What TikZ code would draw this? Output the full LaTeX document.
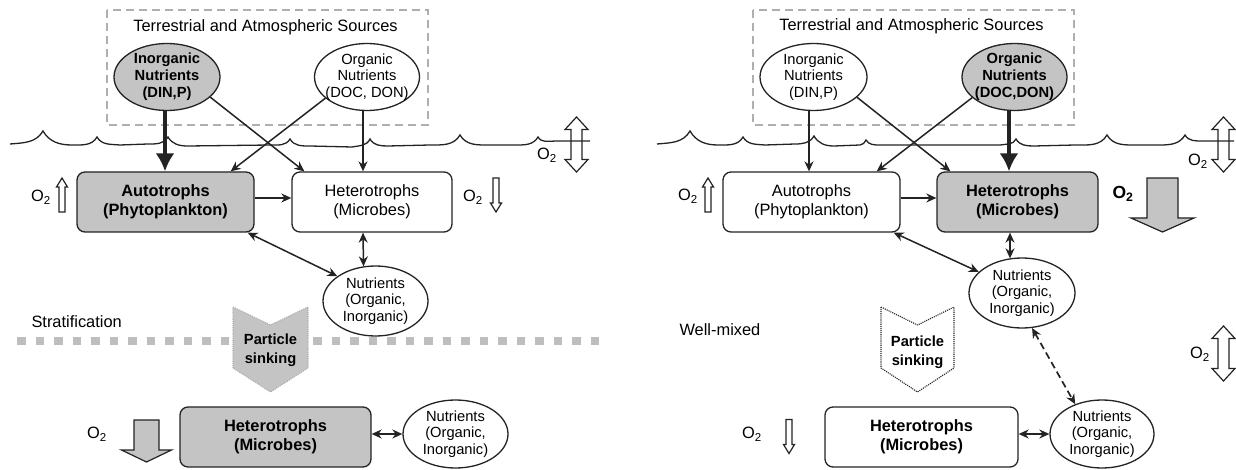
\documentclass[tikz,border=0pt]{standalone}
\usepackage{fontspec}
\setmainfont{Liberation Sans}
\usetikzlibrary{arrows.meta,shapes.geometric}
\definecolor{fillg}{RGB}{196,196,196}
\definecolor{linec}{RGB}{35,35,35}
\definecolor{dashg}{RGB}{175,175,175}
\definecolor{stratg}{RGB}{190,190,190}
\tikzset{
  bigf/.style={font=\fontsize{16.4}{19.5}\selectfont},
  bigb/.style={font=\fontsize{16.4}{19.5}\selectfont\bfseries},
  smf/.style={font=\fontsize{14.7}{16.8}\selectfont},
  smb/.style={font=\fontsize{14.7}{16.8}\selectfont\bfseries},
  boxn/.style={draw=linec, line width=1.3pt, rounded corners=8pt, minimum width=#1, minimum height=60pt, inner sep=0pt, align=center},
  elln/.style 2 args={draw=linec, line width=1.3pt, ellipse, inner sep=0pt, minimum width=#1, minimum height=#2},
  srcbox/.style={draw=dashg, line width=1.4pt, dash pattern=on 8pt off 5pt},
  wave/.style={draw=linec, line width=1.3pt},
  conn/.style={draw=linec, line width=1.5pt, -{Stealth[length=10pt,width=9pt]}},
  dconn/.style={draw=linec, line width=1.5pt, {Stealth[length=10pt,width=9pt]}-{Stealth[length=10pt,width=9pt]}},
  thickarr/.style={draw=linec, line width=3.4pt, -{Latex[length=18pt,width=19pt]}},
  hollow/.style={draw=linec, fill=white, line width=1.2pt, line join=miter},
  grayarr/.style={draw=linec, fill=fillg, line width=1.2pt, line join=miter},
  thinup/.pic={\draw[hollow] (-3,17) -- (-3,-8) -- (-5.5,-8) -- (0,-17) -- (5.5,-8) -- (3,-8) -- (3,17) -- cycle;},
  thindown/.pic={\draw[hollow] (-3,-17) -- (-3,8) -- (-5.5,8) -- (0,17) -- (5.5,8) -- (3,8) -- (3,-17) -- cycle;},
  dblarr/.pic={\draw[hollow, fill=none] (-5.5,-15) -- (-11.5,-15) -- (0,-27.5) -- (11.5,-15) -- (5.5,-15) -- (5.5,15) -- (11.5,15) -- (0,27.5) -- (-11.5,15) -- (-5.5,15) -- cycle;},
  bigdownR/.pic={\draw[grayarr] (-15.5,-27) -- (15.5,-27) -- (15.5,13) -- (31.5,13) -- (0,27) -- (-31.5,13) -- (-15.5,13) -- cycle;},
  bigdownL/.pic={\draw[grayarr] (-12.5,-21) -- (12.5,-21) -- (12.5,9) -- (25,9) -- (0,21) -- (-25,9) -- (-12.5,9) -- cycle;},
}
\begin{document}
\begin{tikzpicture}[x=1pt,y=-1pt]
\useasboundingbox (0,0) rectangle (1236,470);

% ---------- LEFT PANEL ----------
\draw[srcbox] (107,10) rectangle (428,125);
\node[bigf] (srcL) at (265.5,27) {Terrestrial and Atmospheric Sources};

\draw[wave] (10,144) to[out=5,in=-120] (43,131) to[out=-60,in=180] (72,145)
  to[out=0,in=-120] (97,137) to[out=-60,in=175] (120,145) -- (148,144)
  to[out=0,in=-120] (168,137) to[out=-60,in=180] (188,146) -- (270,145)
  to[out=0,in=-120] (290,139) to[out=-60,in=180] (310,146) -- (352,147)
  to[out=10,in=-115] (370,139) to[out=-60,in=180] (388,146) -- (430,145)
  to[out=0,in=-120] (460,135) to[out=-60,in=180] (490,145) -- (515,145)
  to[out=0,in=-120] (538,137) to[out=-60,in=180] (556,141) -- (590,141);

\draw[stratg, line width=8.5pt, dash pattern=on 8.5pt off 10pt] (17,341) -- (606,341);
\node[bigf, anchor=west] (stratL) at (28,322) {Stratification};

\draw[draw=dashg, fill=fillg, line width=1.1pt, densely dotted] (233,307) -- (270.5,325) -- (308,307) -- (308,368) -- (270.5,392) -- (233,368) -- cycle;
\node[smb, align=center, font=\fontsize{14.7}{19}\selectfont\bfseries] (chevL) at (270.5,350) {Particle\\sinking};

\node[elln={106pt}{67pt}, fill=fillg] (InorgL) at (167,77) {};
\node[smb, align=center] (InorgLt) at (InorgL.center) {Inorganic\\Nutrients\\(DIN,P)};
\node[elln={105pt}{67pt}] (OrgL) at (367,77) {};
\node[smf, align=center] (OrgLt) at (OrgL.center) {Organic\\Nutrients\\(DOC, DON)};

\node[boxn=177pt, fill=fillg, bigb] (AutoL) at (165.5,202) {Autotrophs\\(Phytoplankton)};
\node[boxn=160pt, bigf] (HetL) at (372,202) {Heterotrophs\\(Microbes)};
\node[elln={105pt}{70pt}] (NutL) at (375.5,301) {};
\node[smf, align=center] (NutLt) at (NutL.center) {Nutrients\\(Organic,\\Inorganic)};

\node[boxn=191pt, fill=fillg, bigb] (HetBL) at (275.5,437) {Heterotrophs\\(Microbes)};
\node[elln={105pt}{68pt}] (NutBL) at (455.5,434) {};
\node[smf, align=center] (NutBLt) at (NutBL.center) {Nutrients\\(Organic,\\Inorganic)};

\pic at (62,195) {thinup};
\node[bigf] (o2a) at (41,197) {O\textsubscript{2}};
\pic at (496,195) {thindown};
\node[bigf] (o2b) at (473,197) {O\textsubscript{2}};
\pic at (576.5,144.5) {dblarr};
\node[bigf] (o2c) at (547,155) {O\textsubscript{2}};
\pic at (146.5,441) {bigdownL};
\node[bigf] (o2d) at (97,434) {O\textsubscript{2}};

\draw[conn] (InorgL.-25) -- ([xshift=13pt]HetL.north west);
\draw[conn] (OrgL.-153) -- ([xshift=-24pt]AutoL.north east);
\draw[conn] ([xshift=-4pt]OrgL.south) -- ([xshift=-9pt]HetL.north);
\draw[thickarr] ([xshift=-2pt]InorgL.south) -- ([xshift=-0.5pt]AutoL.north);
\draw[conn] ([yshift=4pt]AutoL.east) -- ([yshift=4pt]HetL.west);
\draw[dconn] ([xshift=-7pt]AutoL.south east) -- (NutL.147);
\draw[dconn] ([xshift=-9pt]HetL.south) -- ([xshift=-12pt,yshift=-1pt]NutL.north);
\draw[dconn] (HetBL.east |- NutBL.west) -- (NutBL.west);

% ---------- RIGHT PANEL ----------
\draw[srcbox] (753,10) rectangle (1074,125);
\node[bigf] (srcR) at (911.5,26) {Terrestrial and Atmospheric Sources};

\draw[wave] (657,144) to[out=5,in=-120] (690,131) to[out=-60,in=180] (718,145)
  to[out=0,in=-120] (743,137) to[out=-60,in=175] (765,145) -- (795,144)
  to[out=0,in=-120] (814,136) to[out=-60,in=180] (834,146) -- (860,145)
  to[out=0,in=-120] (866,140) to[out=-60,in=180] (880,145) -- (1000,145)
  to[out=10,in=-115] (1016,139) to[out=-60,in=180] (1034,146) -- (1075,145)
  to[out=0,in=-120] (1107,135) to[out=-60,in=180] (1137,145) -- (1160,145)
  to[out=0,in=-120] (1185,135) to[out=-60,in=180] (1203,141) -- (1234,141);

\node[bigf, anchor=west] (wellR) at (676,330) {Well-mixed};

\draw[draw=linec, fill=white, line width=1.1pt, densely dotted] (881,307) -- (917.5,325) -- (954,307) -- (954,368) -- (917.5,392) -- (881,368) -- cycle;
\node[smb, align=center, font=\fontsize{14.7}{19}\selectfont\bfseries] (chevR) at (917.5,352) {Particle\\sinking};

\node[elln={107pt}{67pt}] (InorgR) at (813.5,77) {};
\node[smf, align=center] (InorgRt) at (InorgR.center) {Inorganic\\Nutrients\\(DIN,P)};
\node[elln={105pt}{67pt}, fill=fillg] (OrgR) at (1014.5,77) {};
\node[smb, align=center] (OrgRt) at (OrgR.center) {Organic\\Nutrients\\(DOC,DON)};

\node[boxn=177pt, bigf] (AutoR) at (811.5,202) {Autotrophs\\(Phytoplankton)};
\node[boxn=161pt, fill=fillg, bigb] (HetR) at (1017.5,202) {Heterotrophs\\(Microbes)};
\node[elln={106pt}{70pt}] (NutR) at (1022,293) {};
\node[smf, align=center] (NutRt) at (NutR.center) {Nutrients\\(Organic,\\Inorganic)};

\node[boxn=193pt, bigb] (HetBR) at (921.5,437) {Heterotrophs\\(Microbes)};
\node[elln={104pt}{68pt}] (NutBR) at (1102,434) {};
\node[smf, align=center] (NutBRt) at (NutBR.center) {Nutrients\\(Organic,\\Inorganic)};

\pic at (708,195) {thinup};
\node[bigf] (o2e) at (688,196) {O\textsubscript{2}};
\pic at (1162.5,205) {bigdownR};
\node[font=\fontsize{17.5}{20}\selectfont\bfseries] (o2f) at (1123,194) {O\textsubscript{2}};
\pic at (1223.5,144.5) {dblarr};
\node[bigf] (o2g) at (1198,161) {O\textsubscript{2}};
\pic at (1223.5,353.5) {dblarr};
\node[bigf] (o2h) at (1200,354) {O\textsubscript{2}};
\pic at (789,436.5) {thindown};
\node[bigf] (o2i) at (752,434) {O\textsubscript{2}};

\draw[conn] ([xshift=-4.5pt]InorgR.south) -- ([xshift=-2.5pt]AutoR.north);
\draw[conn] (InorgR.-25) -- ([xshift=14pt]HetR.north west);
\draw[conn] (OrgR.-154) -- ([xshift=-24pt]AutoR.north east);
\draw[thickarr] ([xshift=-5.5pt]OrgR.south) -- ([xshift=-8.5pt]HetR.north);
\draw[conn] ([yshift=4pt]AutoR.east) -- ([yshift=4pt]HetR.west);
\draw[dconn] ([xshift=-7pt]AutoR.south east) -- (NutR.154);
\draw[dconn] ([xshift=-7.5pt]HetR.south) -- ([xshift=-12pt,yshift=-1pt]NutR.north);
\draw[dconn, line width=1.7pt, dash pattern=on 7pt off 4pt] (NutR.-74) -- (NutBR.132);
\draw[dconn] (HetBR.east |- NutBR.west) -- (NutBR.west);
\end{tikzpicture}
\end{document}
